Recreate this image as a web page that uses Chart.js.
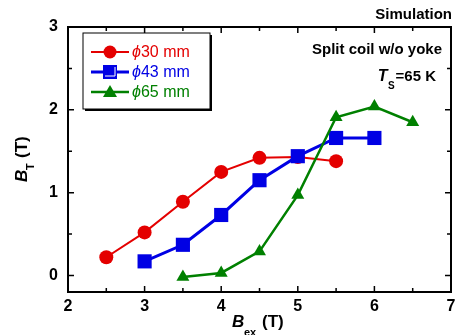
<!DOCTYPE html>
<html>
<head>
<meta charset="utf-8">
<script src="https://cdn.jsdelivr.net/npm/chart.js@4.4.0/dist/chart.umd.min.js"></script>
<style>
  html, body { margin: 0; padding: 0; background: #fff; }
  #wrap { width: 461px; height: 335px; position: relative; }
</style>
</head>
<body>
<div id="wrap"><canvas id="myChart"></canvas></div>
<script>
// B_ex (T) for each series
const x30 = [2.5, 3, 3.5, 4, 4.5, 5, 5.5];
const x43 = [3, 3.5, 4, 4.5, 5, 5.5, 6];
const x65 = [3.5, 4, 4.5, 5, 5.5, 6, 6.5];
// B_T (T)
const y30 = [0.22, 0.52, 0.89, 1.25, 1.42, 1.43, 1.38];
const y43 = [0.17, 0.37, 0.73, 1.15, 1.44, 1.66, 1.66];
const y65 = [-0.02, 0.03, 0.29, 0.97, 1.91, 2.04, 1.85];
const xTicks = [2, 3, 4, 5, 6, 7];
const yTicks = [0, 1, 2, 3];
const names = ["30 mm", "43 mm", "65 mm"];

const RED = "rgb(228,0,0)";
const BLUE = "rgb(0,0,228)";
const GREEN = "rgb(0,128,0)";
const FONT = "'Liberation Sans', Arial, sans-serif";

function pts(xs, ys) {
  return xs.map((v, i) => ({ x: v, y: ys[i] }));
}

// frame, inward ticks and text
const decor = {
  id: "decor",
  afterDraw(chart) {
    const c = chart.ctx;
    const a = chart.chartArea;
    const sx = chart.scales.x, sy = chart.scales.y;
    c.save();
    c.strokeStyle = "#000";
    c.lineWidth = 2;
    c.strokeRect(a.left, a.top, a.right - a.left, a.bottom - a.top);
    c.lineWidth = 1.5;
    for (let v = 2; v <= 7; v += 0.5) {
      const px = sx.getPixelForValue(v);
      const len = Number.isInteger(v) ? 6 : 4;
      c.beginPath();
      c.moveTo(px, a.bottom); c.lineTo(px, a.bottom - len);
      c.moveTo(px, a.top); c.lineTo(px, a.top + len);
      c.stroke();
    }
    for (let v = 0; v <= 3; v += 0.5) {
      const py = sy.getPixelForValue(v);
      const len = Number.isInteger(v) ? 6 : 4;
      c.beginPath();
      c.moveTo(a.left, py); c.lineTo(a.left + len, py);
      c.moveTo(a.right, py); c.lineTo(a.right - len, py);
      c.stroke();
    }

    // legend box
    const lx = 83, ly = 33, lw = 127, lh = 76;
    c.fillStyle = "#000";
    c.fillRect(lx + 2, ly + 2, lw, lh);
    c.fillStyle = "#fff";
    c.fillRect(lx, ly, lw, lh);
    c.lineWidth = 1;
    c.strokeRect(lx, ly, lw, lh);
    chart.data.datasets.forEach((ds, i) => {
      const yy = 52 + i * 20;
      c.strokeStyle = ds.borderColor;
      c.lineWidth = ds.borderWidth;
      c.beginPath(); c.moveTo(91, yy); c.lineTo(129, yy); c.stroke();
      c.fillStyle = ds.borderColor;
      c.beginPath();
      if (i === 0) {
        c.arc(110, yy, 6.5, 0, Math.PI * 2); c.fill();
      } else if (i === 1) {
        c.fillRect(103, yy - 7, 14, 14);
        c.strokeStyle = "#fff"; c.lineWidth = 1;
        c.beginPath(); c.moveTo(105, yy + 4); c.lineTo(115, yy + 4); c.lineTo(115, yy - 5); c.stroke();
      } else {
        c.moveTo(110, yy - 7); c.lineTo(117, yy + 5); c.lineTo(103, yy + 5); c.closePath(); c.fill();
      }
      c.textBaseline = "middle";
      c.textAlign = "left";
      c.font = "italic 16px " + FONT;
      c.fillText("\u03d5", 132, yy + 1);
      const w = c.measureText("\u03d5").width;
      c.font = "16px " + FONT;
      c.fillText(names[i], 132 + w, yy + 1);
    });

    // annotations
    c.fillStyle = "#000";
    c.textBaseline = "middle";
    c.textAlign = "right";
    c.font = "bold 15px " + FONT;
    c.fillText("Simulation", 452, 15);
    c.fillText("Split coil w/o yoke", 442, 50);
    c.fillText("=65 K", 436, 77);
    const wEq = c.measureText("=65 K").width;
    c.font = "bold 10px " + FONT;
    c.fillText("S", 436 - wEq - 1, 86);
    c.font = "bold italic 16px " + FONT;
    c.fillText("T", 436 - wEq - 8, 77);

    // x title
    c.textAlign = "left";
    c.font = "bold italic 17px " + FONT;
    c.fillText("B", 232, 322);
    c.font = "bold 11px " + FONT;
    c.fillText("ex", 244, 333);
    c.font = "bold 17px " + FONT;
    c.fillText("(T)", 262, 322);

    // y title
    c.translate(22, 182);
    c.rotate(-Math.PI / 2);
    c.textAlign = "left";
    c.font = "bold italic 17px " + FONT;
    c.fillText("B", 0, 0);
    c.font = "bold 11px " + FONT;
    c.fillText("T", 12, 9);
    c.font = "bold 17px " + FONT;
    c.fillText("(T)", 24, 0);
    c.restore();
  }
};

const ctx = document.getElementById("myChart");
const data = {
  datasets: [
    {
      label: "30 mm",
      data: pts(x30, y30),
      borderColor: RED,
      backgroundColor: RED,
      borderWidth: 2,
      pointStyle: "circle",
      pointRadius: 7,
      pointBorderWidth: 0,
      order: 2,
    },
    {
      label: "43 mm",
      data: pts(x43, y43),
      borderColor: BLUE,
      backgroundColor: BLUE,
      borderWidth: 3,
      pointStyle: "rect",
      pointRadius: 10,
      pointBorderWidth: 0,
      order: 1,
    },
    {
      label: "65 mm",
      data: pts(x65, y65),
      borderColor: GREEN,
      backgroundColor: GREEN,
      borderWidth: 2.5,
      pointStyle: "triangle",
      pointRadius: 7.5,
      pointBorderWidth: 0,
      order: 0,
    },
  ],
};
const config = {
  type: "line",
  data: data,
  options: {
    responsive: true,
    maintainAspectRatio: false,
    animation: false,
    layout: { padding: { left: 0, top: 27, right: 9, bottom: 0 } },
    plugins: { legend: { display: false }, tooltip: { enabled: false } },
    scales: {
      x: {
        type: "linear",
        min: 2,
        max: 7,
        afterBuildTicks: (s) => { s.ticks = xTicks.map((v) => ({ value: v })); },
        afterFit: (s) => { s.height = 43; },
        grid: { display: false, drawTicks: false },
        border: { display: false },
        ticks: { color: "#000", padding: 5, font: { family: FONT, size: 16, weight: "bold" } },
      },
      y: {
        min: -0.2,
        max: 3,
        afterBuildTicks: (s) => { s.ticks = yTicks.map((v) => ({ value: v })); },
        afterFit: (s) => { s.width = 68; },
        grid: { display: false, drawTicks: false },
        border: { display: false },
        ticks: { color: "#000", padding: 10, font: { family: FONT, size: 16, weight: "bold" } },
      },
    },
  },
  plugins: [decor],
};
const myChart = new Chart(ctx, config);
</script>
</body>
</html>
